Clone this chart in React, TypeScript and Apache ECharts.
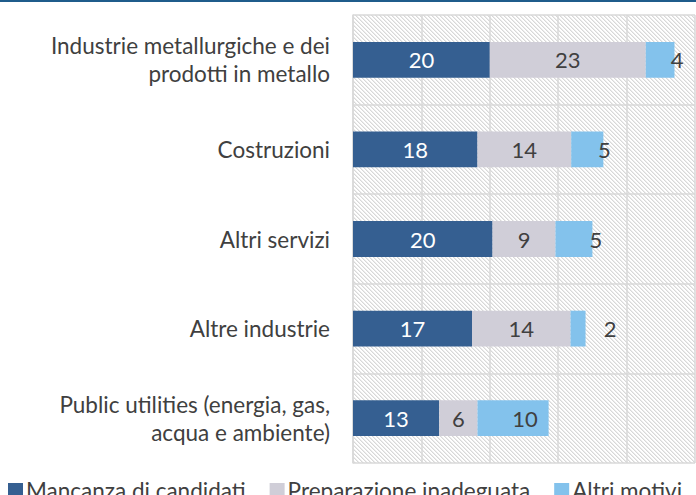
import React, { useEffect, useRef } from "react";
import * as echarts from "echarts";

const categories = [
  "Industrie metallurgiche e dei\nprodotti in metallo",
  "Costruzioni",
  "Altri servizi",
  "Altre industrie",
  "Public utilities (energia, gas,\nacqua e ambiente)",
];
const seriesNames = ["Mancanza di candidati", "Preparazione inadeguata", "Altri motivi"];
const mancanza = [20.0, 18.2, 20.4, 17.4, 12.6];
const preparazione = [22.8, 13.7, 9.2, 14.4, 5.6];
const altri = [4.2, 4.7, 5.4, 2.2, 10.4];
const xTicks = [0, 10, 20, 30, 40, 50];

// label horizontal shifts for the "Altri motivi" labels (as in the reference)
const altriLabelShift = [17, 17, 22, 32, 12];

const colors = ["#355F91", "#D0CED8", "#83C2EC"];
const FONT = "Lato";

function makeHatch(): HTMLCanvasElement {
  const c = document.createElement("canvas");
  const s = 4;
  c.width = s;
  c.height = s;
  const ctx = c.getContext("2d")!;
  ctx.fillStyle = "#ffffff";
  ctx.fillRect(0, 0, s, s);
  for (let i = 0; i < s; i++) {
    ctx.fillStyle = "#d8d8d8";
    ctx.fillRect(i, i, 1, 1);
    ctx.fillStyle = "#ececec";
    ctx.fillRect((i + 1) % s, i, 1, 1);
  }
  return c;
}

export default function App() {
  const ref = useRef<HTMLDivElement>(null);
  useEffect(() => {
    if (!ref.current) return;
    const chart = echarts.init(ref.current, undefined, { renderer: "svg" });
    const fmt = (p: any) => String(Math.round(p.value));
    const labelBase = {
      show: true,
      position: "inside",
      fontFamily: FONT,
      fontSize: 22,
      formatter: fmt,
    };
    chart.setOption({
      animation: false,
      backgroundColor: "#ffffff",
      textStyle: { fontFamily: FONT },
      graphic: [
        {
          type: "rect",
          left: 0,
          top: 0,
          shape: { width: 696, height: 2 },
          style: { fill: "#1F5C8B" },
        },
      ],
      grid: {
        left: 353,
        top: 15,
        right: 1,
        bottom: 32,
        show: true,
        borderWidth: 0,
        backgroundColor: { image: makeHatch(), repeat: "repeat" },
      },
      legend: {
        data: seriesNames,
        left: 8,
        top: 479,
        padding: 0,
        icon: "rect",
        itemWidth: 15,
        itemHeight: 15,
        itemGap: 24,
        textStyle: {
          fontFamily: FONT,
          fontSize: 22.5,
          lineHeight: 16,
          color: "#404040",
          padding: [0, 0, 0, -2],
        },
      },
      xAxis: {
        type: "value",
        min: xTicks[0],
        max: xTicks[xTicks.length - 1],
        interval: 10,
        axisLabel: { show: false },
        axisLine: { show: false },
        axisTick: { show: false },
        splitLine: { show: true, lineStyle: { color: "#D9D9D9", width: 1.5 } },
      },
      yAxis: {
        type: "category",
        data: categories,
        inverse: true,
        axisLine: { show: true, lineStyle: { color: "#D9D9D9", width: 1.5 } },
        axisTick: { show: false },
        splitLine: { show: true, lineStyle: { color: "#D9D9D9", width: 1.5 } },
        axisLabel: {
          margin: 23,
          fontFamily: FONT,
          fontSize: 22.5,
          lineHeight: 28,
          color: "#404040",
          align: "right",
        },
      },
      series: [
        {
          name: seriesNames[0],
          type: "bar",
          stack: "a",
          barWidth: "40%",
          data: mancanza,
          itemStyle: { color: colors[0] },
          label: { ...labelBase, color: "#ffffff" },
        },
        {
          name: seriesNames[1],
          type: "bar",
          stack: "a",
          data: preparazione,
          itemStyle: { color: colors[1] },
          label: { ...labelBase, color: "#404040" },
        },
        {
          name: seriesNames[2],
          type: "bar",
          stack: "a",
          data: altri.map((v, i) => ({
            value: v,
            label: { offset: [altriLabelShift[i], 0] },
          })),
          itemStyle: { color: colors[2] },
          label: { ...labelBase, color: "#404040" },
        },
      ],
    });
    return () => chart.dispose();
  }, []);
  return (
    <div
      ref={ref}
      style={{ position: "fixed", left: 0, top: 0, width: 696, height: 495 }}
    />
  );
}
